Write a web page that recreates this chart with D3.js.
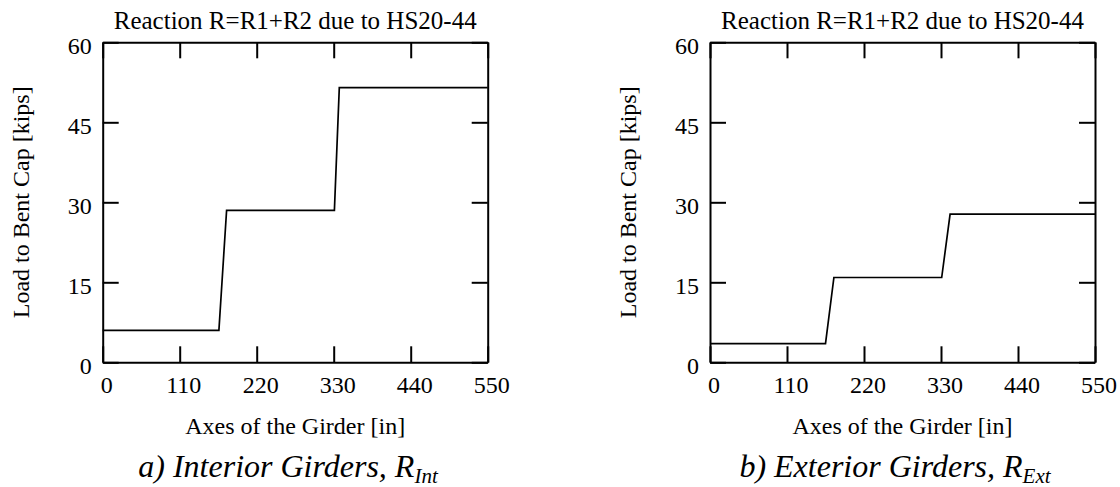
<!DOCTYPE html>
<html>
<head>
<meta charset="utf-8">
<script src="https://cdn.jsdelivr.net/npm/d3@7"></script>
<style>
  body { margin: 0; background: #fff; }
  svg text { font-family: 'Liberation Serif', 'DejaVu Serif', serif; fill: #000; }
</style>
</head>
<body>
<div class="charts"></div>
<script>
var width = 1120,
    height = 487;

// data
var xTicks = [0, 110, 220, 330, 440, 550];
var yTicks = [0, 15, 30, 45, 60];
var titleText = "Reaction R=R1+R2 due to HS20-44";
var xLabel = "Axes of the Girder [in]";
var yLabel = "Load to Bent Cap [kips]";

var intPos = [0, 166, 177, 331, 338, 550];
var intLoad = [6, 6, 28.5, 28.5, 51.5, 51.5];
var extPos = [0, 165, 177, 331, 343, 550];
var extLoad = [3.5, 3.5, 15.9, 15.9, 27.8, 27.8];

var panels = [
  {left: 102.7, pos: intPos, load: intLoad, cap: "a) Interior Girders, R", sub: "Int", capX: 288},
  {left: 710, pos: extPos, load: extLoad, cap: "b) Exterior Girders, R", sub: "Ext", capX: 895}
];

var plotTop = 42.3,
    pw = 385,
    ph = 320,
    tick = 16,
    serif = "'Liberation Serif', 'DejaVu Serif', serif";

var svg = d3.select(".charts").append("svg")
    .attr("width", width)
    .attr("height", height)
    .style("font-family", serif);

var x = d3.scaleLinear().domain([0, 550]).range([0, pw]);
var y = d3.scaleLinear().domain([0, 60]).range([ph, 0]);

panels.forEach(function(p) {
  var g = svg.append("g").attr("transform", "translate(" + p.left + "," + plotTop + ")");

  // ticks point inward on all four sides
  var bottom = g.append("g").attr("transform", "translate(0," + ph + ")")
      .call(d3.axisBottom(x).tickValues(xTicks).tickSizeInner(-tick).tickSizeOuter(0).tickPadding(14));
  bottom.selectAll("text").attr("dx", 3.5);

  var left = g.append("g")
      .call(d3.axisLeft(y).tickValues(yTicks).tickSizeInner(-tick).tickSizeOuter(0).tickPadding(11));
  left.selectAll("text").attr("y", 4);

  g.append("g")
      .call(d3.axisTop(x).tickValues(xTicks).tickSizeInner(-tick).tickSizeOuter(0).tickFormat(""));
  g.append("g").attr("transform", "translate(" + pw + ",0)")
      .call(d3.axisRight(y).tickValues(yTicks).tickSizeInner(-tick).tickSizeOuter(0).tickFormat(""));

  g.selectAll("g").attr("font-family", null).attr("font-size", 24);
  g.selectAll(".domain, .tick line").attr("stroke", "#000").attr("stroke-width", 2);
  g.selectAll(".tick text").attr("fill", "#000").style("font-family", serif);

  var pts = p.pos.map(function(d, i) { return [d, p.load[i]]; });
  var line = d3.line()
      .x(function(d) { return x(d[0]); })
      .y(function(d) { return y(d[1]); });

  g.append("path")
      .datum(pts)
      .attr("d", line)
      .attr("fill", "none")
      .attr("stroke", "#000")
      .attr("stroke-width", 1.7);

  g.append("text")
      .attr("x", pw / 2)
      .attr("y", 29 - plotTop)
      .attr("text-anchor", "middle")
      .attr("font-size", 25)
      .text(titleText);

  g.append("text")
      .attr("x", pw / 2)
      .attr("y", 434 - plotTop)
      .attr("text-anchor", "middle")
      .attr("font-size", 24)
      .text(xLabel);

  g.append("text")
      .attr("transform", "translate(-74," + (ph / 2) + ") rotate(-90)")
      .attr("text-anchor", "middle")
      .attr("font-size", 24)
      .text(yLabel);

  var cap = svg.append("text")
      .attr("x", p.capX)
      .attr("y", 477)
      .attr("text-anchor", "middle")
      .attr("font-size", 32)
      .attr("font-style", "italic");
  cap.append("tspan").text(p.cap);
  cap.append("tspan").attr("font-size", 21).attr("dy", 6).text(p.sub);
});
</script>
</body>
</html>
